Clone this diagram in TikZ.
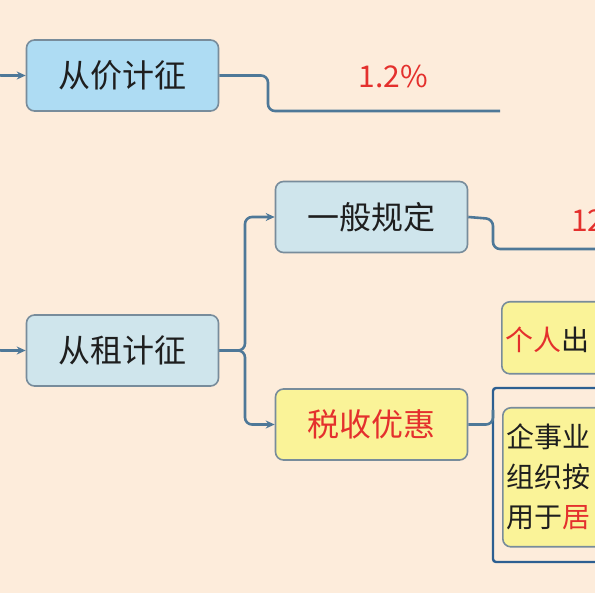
\documentclass[tikz,border=0pt]{standalone}
\usepackage{fontspec}
\newfontfamily\cjk{Noto Sans CJK SC}
\usetikzlibrary{arrows.meta}
\definecolor{bg}{RGB}{253,236,219}
\definecolor{fillblue}{RGB}{174,220,243}
\definecolor{fillgray}{RGB}{207,229,236}
\definecolor{fillyel}{RGB}{250,243,152}
\definecolor{boxedge}{RGB}{120,140,155}
\definecolor{conn}{RGB}{78,120,152}
\definecolor{grpedge}{RGB}{45,95,145}
\definecolor{redtxt}{RGB}{228,48,45}
\definecolor{txt}{RGB}{30,30,30}
\tikzset{
  topic/.style={draw=boxedge, line width=1.6pt, rounded corners=8pt, minimum width=192pt, minimum height=71pt, inner sep=0pt, font=\cjk\fontsize{32}{38}\selectfont, text=txt},
  leafbox/.style={draw=boxedge, line width=1.6pt, rounded corners=8pt, fill=fillyel},
  conline/.style={draw=conn, line width=2.6pt, rounded corners=7pt},
  arr/.style={-{Stealth[length=9pt,width=8pt]}},
  leaftext/.style={font=\cjk\fontsize{28}{40}\selectfont, text=txt, inner sep=0pt}
}
\begin{document}
\begin{tikzpicture}[x=1pt,y=-1pt]
\useasboundingbox (0,0) rectangle (595,593);
\fill[bg] (0,0) rectangle (595,593);
\begin{scope}
\clip (0,0) rectangle (595,593);
% main topics
\node[topic, fill=fillblue] (jia) at (122.5,75.5) {从价计征};
\node[topic, fill=fillgray] (zu) at (122.5,350.5) {从租计征};
\node[topic, fill=fillgray] (yb) at (371.5,217) {一般规定};
\node[topic, fill=fillyel, text=redtxt] (yh) at (371.5,424.5) {税收优惠};
% incoming connectors from the left
\coordinate (inA) at (-6,0);
\coordinate (inB) at (-6,290);
\draw[conline, arr] (inA) |- (jia.west);
\draw[conline, arr] (inB) |- (zu.west);
% 从价计征 -> 1.2%
\coordinate (jend) at (500,111);
\draw[conline] (jia.east) -- (268,75.5) -- (268,111) -- (jend);
\node[font=\cjk\fontsize{30}{36}\selectfont, text=redtxt, anchor=base, inner sep=0pt] (rate1) at (393,88) {1.2\%};
% 从租计征 -> branches
\draw[conline, arr] (zu.east) -- (245,350.5) -- (245,217) -- (yb.west);
\draw[conline, arr] (zu.east) -- (245,350.5) -- (245,424.5) -- (yh.west);
% 一般规定 -> 12
\coordinate (yend) at (610,249);
\draw[conline] (yb.east) -- (493,219) -- (493,249) -- (yend);
\node[font=\cjk\fontsize{30}{36}\selectfont, text=redtxt, anchor=base west, inner sep=0pt] (rate2) at (571,232) {12};
% 个人出 box
\node[leafbox, minimum width=150pt, minimum height=72pt, anchor=north west] (geren) at (501,301) {};
\node[leaftext, anchor=base west] (gerentxt) at (505,351) {\textcolor{redtxt}{个人}出};
% group frame for 税收优惠
\draw[draw=grpedge, line width=2.4pt, rounded corners=3pt] (493,388) rectangle (640,562);
\coordinate (grp) at (493,410);
\draw[conline] (yh.east) -- (493,424.5) -- (grp);
% inner box
\node[leafbox, minimum width=150pt, minimum height=139pt, anchor=north west] (qiye) at (502,407) {};
\node[leaftext, anchor=base west] (l1) at (506,448) {企事业};
\node[leaftext, anchor=base west] (l2) at (506,488) {组织按};
\node[leaftext, anchor=base west] (l3) at (506,528) {用于\textcolor{redtxt}{居}};
\end{scope}
\end{tikzpicture}
\end{document}
